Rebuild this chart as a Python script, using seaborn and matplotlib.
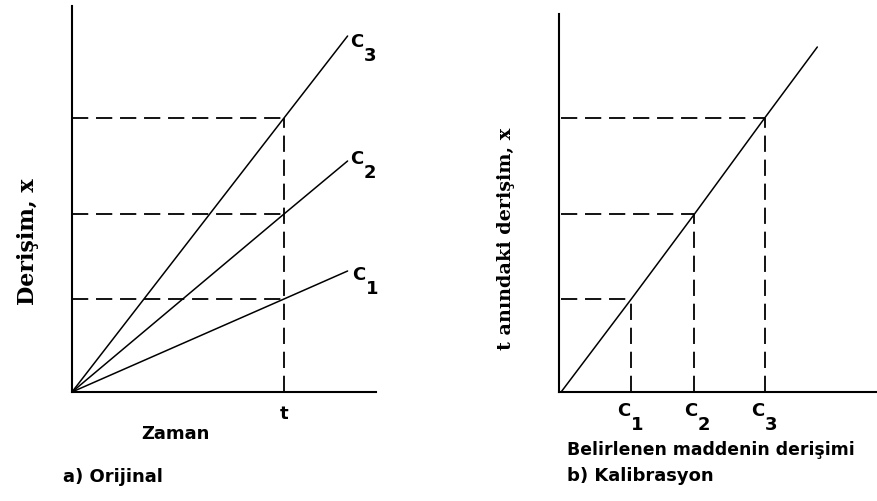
import numpy as np
import pandas as pd
import matplotlib
matplotlib.use("Agg")
import matplotlib.pyplot as plt
import seaborn as sns

# data
t_points = [0, 1.0, 1.3]                 # time: origin, t, end of drawn line
series = ["C1", "C2", "C3"]
x_c1 = [0, 0.93, 1.21]
x_c2 = [0, 1.78, 2.31]
x_c3 = [0, 2.74, 3.56]
x_at_t = [0.93, 1.78, 2.74]              # concentration reached at time t

cal_conc = [0, 1.0, 1.9, 2.9, 3.65]      # calibration line, b)
cal_x = [0, 0.93, 1.78, 2.74, 3.45]
std_conc = [1.0, 1.9, 2.9]

sns.set_style("white")
plt.rcParams["font.family"] = ["DejaVu Sans"]

fig = plt.figure(figsize=(8.77, 5.02), dpi=100)
ax1 = fig.add_axes([72/877, 1-393/502, 304/877, 386/502])
ax2 = fig.add_axes([559/877, 1-393/502, 318/877, 378/502])

df = pd.DataFrame({
    "t": t_points * 3,
    "x": x_c1 + x_c2 + x_c3,
    "s": [s for s in series for _ in t_points],
})
sns.lineplot(data=df, x="t", y="x", hue="s", palette=["black"]*3, lw=1.1,
             legend=False, ax=ax1)
dash = (9, 4.3)
dlw = 1.3
for v in x_at_t:
    ax1.plot([0, t_points[1]], [v, v], color="black", lw=dlw, dashes=dash)
ax1.plot([t_points[1]]*2, [0, max(x_at_t)], color="black", lw=dlw, dashes=dash)
ax1.set_xlim(0, 1.434)
ax1.set_ylim(0, 3.86)

sns.lineplot(x=cal_conc, y=cal_x, color="black", lw=1.1, ax=ax2)
for c, v in zip(std_conc, x_at_t):
    ax2.plot([0, c], [v, v], color="black", lw=dlw, dashes=dash)
    ax2.plot([c, c], [0, v], color="black", lw=dlw, dashes=dash)
ax2.set_xlim(-0.03, 4.5)
ax2.set_ylim(0, 3.78)

for ax in (ax1, ax2):
    sns.despine(ax=ax)
    ax.spines["left"].set_linewidth(1.5)
    ax.spines["bottom"].set_linewidth(1.5)
    ax.spines["left"].set_color("black")
    ax.spines["bottom"].set_color("black")
    ax.set_xticks([])
    ax.set_yticks([])
    ax.set_xlabel("")
    ax.set_ylabel("")

tkw = dict(fontsize=13, fontweight="bold", color="black")

def clabel(fx, fy, n):
    fig.text(fx/877, 1-fy/502, "C", ha="center", va="center", **tkw)
    fig.text((fx+13)/877, 1-(fy+14)/502, str(n), ha="center", va="center", **tkw)

# curve labels, panel a
clabel(357, 42, 3)
clabel(357, 159, 2)
clabel(359, 275, 1)
# standards under the axis, panel b
clabel(624, 411, 1)
clabel(691, 411, 2)
clabel(758, 411, 3)

fig.text(284/877, 1-414/502, "t", ha="center", va="center", **tkw)
fig.text(175/877, 1-434/502, "Zaman", ha="center", va="center", **tkw)
fig.text(63/877, 1-477/502, "a) Orijinal", ha="left", va="center", **tkw)
fig.text(567/877, 1-450/502, "Belirlenen maddenin derişimi", ha="left",
         va="center", fontsize=12.4, fontweight="bold", color="black")
fig.text(567/877, 1-476/502, "b) Kalibrasyon", ha="left", va="center", **tkw)

skw = dict(fontweight="bold", color="black", rotation=90,
           family=["DejaVu Serif"], ha="center", va="center")
fig.text(28/877, 1-242/502, "Derişim, x", fontsize=16, **skw)
fig.text(506/877, 1-239/502, "t anındaki derişim, x", fontsize=13.8, **skw)

fig.savefig("out.png", dpi=100, facecolor="white")
